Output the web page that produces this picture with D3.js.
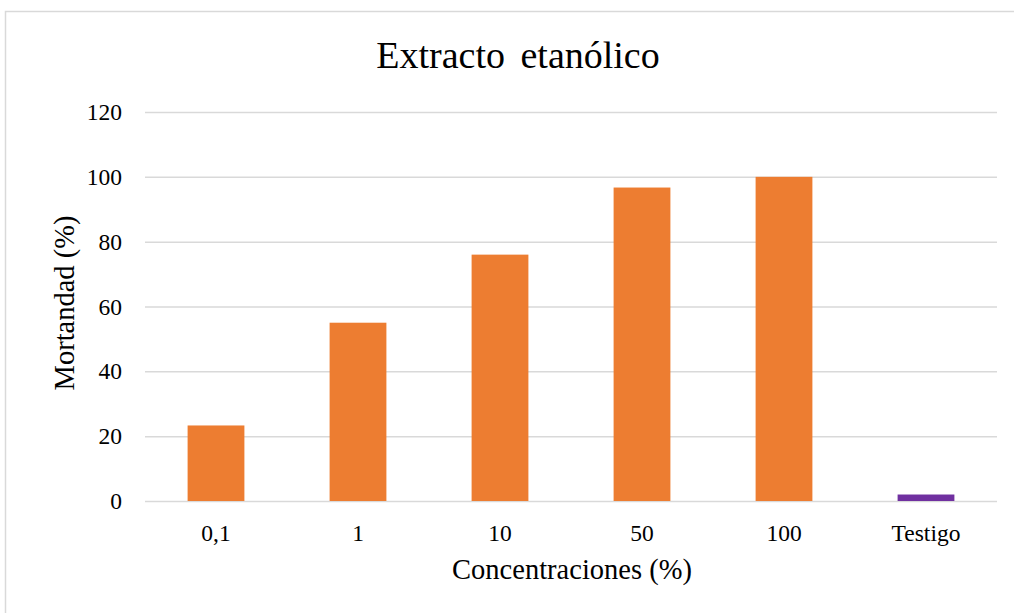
<!DOCTYPE html>
<html><head><meta charset="utf-8">
<script src="https://cdn.jsdelivr.net/npm/d3@7"></script>
<style>body{margin:0;background:#fff}svg{display:block}</style>
</head><body><svg id="c" width="1014" height="613"></svg>
<script>
const categories = ["0,1","1","10","50","100","Testigo"];
const values = [23.3, 55, 76, 96.7, 100, 2];
const barColors = ["#ED7D31","#ED7D31","#ED7D31","#ED7D31","#ED7D31","#7030A0"];
const yTicks = [0,20,40,60,80,100,120];
const title = "Extracto etanólico";
const xTitle = "Concentraciones (%)";
const yTitle = "Mortandad (%)";

const svg = d3.select("#c");
const font = "'Liberation Serif','Times New Roman',serif";
const m = {l:145, r:997, t:112, b:501};

svg.append("path").attr("d","M5.5,640 L5.5,11.5 L1020,11.5").attr("fill","none").attr("stroke","#d9d9d9").attr("stroke-width",1.5);

const x = d3.scaleBand().domain(categories).range([m.l,m.r]).paddingInner(0.6).paddingOuter(0.3);
const y = d3.scaleLinear().domain([0,120]).range([m.b,m.t]);

const yAxis = d3.axisLeft(y).tickValues(yTicks).tickSize(-(m.r-m.l)).tickPadding(23);
const gy = svg.append("g").attr("transform",`translate(${m.l},0)`).call(yAxis);
gy.select(".domain").remove();
gy.selectAll(".tick line").attr("stroke","#d9d9d9").attr("stroke-width",1.5);
gy.selectAll(".tick text").attr("font-family",font).attr("font-size",23.5).attr("fill","#000");

svg.append("g").selectAll("rect").data(values).join("rect")
  .attr("x",(d,i)=>x(categories[i])).attr("width",x.bandwidth())
  .attr("y",d=>y(d)).attr("height",d=>y(0)-y(d))
  .attr("fill",(d,i)=>barColors[i]);

const xAxis = d3.axisBottom(x).tickSize(0).tickPadding(23);
const gx = svg.append("g").attr("transform",`translate(0,${m.b})`).call(xAxis);
gx.select(".domain").remove();
gx.selectAll(".tick text").attr("font-family",font).attr("font-size",23.5).attr("fill","#000");

svg.append("text").attr("x",518).attr("y",68).attr("text-anchor","middle")
  .attr("font-family",font).attr("font-size",38).attr("word-spacing",6).attr("fill","#000").text(title);
svg.append("text").attr("x",572).attr("y",579).attr("text-anchor","middle")
  .attr("font-family",font).attr("font-size",28.5).attr("fill","#000").text(xTitle);
svg.append("text").attr("transform","translate(74,303) rotate(-90)").attr("text-anchor","middle")
  .attr("font-family",font).attr("font-size",28.5).attr("fill","#000").text(yTitle);
</script></body></html>
